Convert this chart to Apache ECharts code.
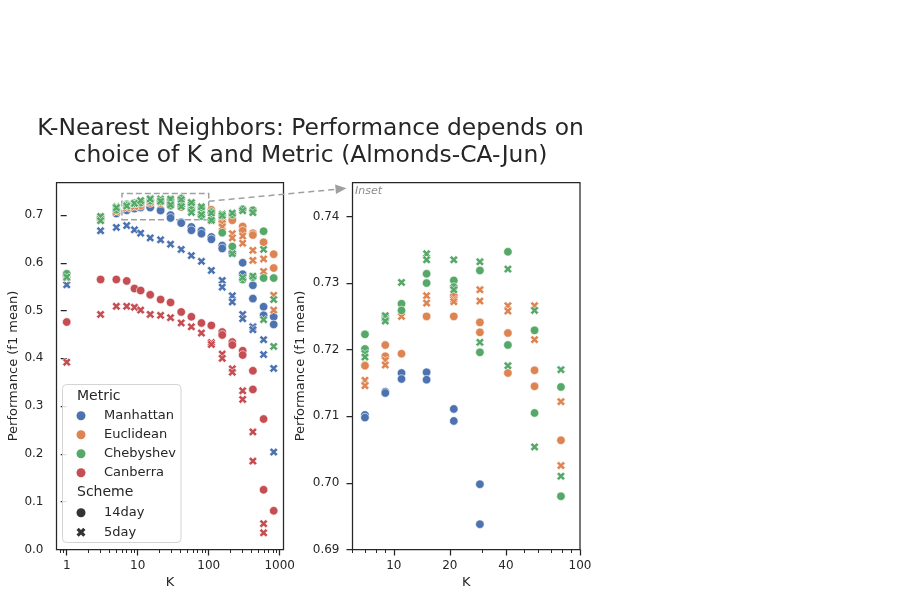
<!DOCTYPE html>
<html><head><meta charset="utf-8">
<script src="https://cdn.jsdelivr.net/npm/echarts@6/dist/echarts.min.js"></script>
<style>html,body{margin:0;padding:0;background:#fff}#c{width:903px;height:595px}</style>
</head><body><div id="c"></div>
<script>
// ---- data ----
const K = [1,3,5,7,9,11,15,21,29,41,57,79,109,155,215,301,419,593,823];

const manhattan14day = [[0.572],[0.691],[0.704,0.703],[0.7102,0.7098],[0.7137,0.7135],[0.7165,0.7156],[0.7166,0.7155],[0.7111,0.7093],[0.6998,0.6938],[0.685,0.683],[0.675,0.668],[0.667,0.661],[0.654,0.649],[0.636,0.630],[0.623,0.621],[0.600,0.576],[0.553,0.525],[0.508,0.490],[0.487,0.471]];
const manhattan5day = [[0.554],[0.667],[0.674],[0.678],[0.669],[0.662],[0.652],[0.648],[0.639],[0.628],[0.615],[0.603],[0.584],[0.563,0.549],[0.531,0.518],[0.492,0.483],[0.466,0.460],[0.439,0.408],[0.379,0.204]];
const euclidean14day = [[0.575],[0.694,0.692],[0.710,0.709],[0.7177,0.7176],[0.7207,0.7190],[0.7194],[0.7250],[0.7281,0.7250],[0.7241,0.7226],[0.7225,0.7165],[0.7169,0.7145],[0.7064],[0.711,0.690],[0.690,0.686],[0.692,0.689],[0.676,0.667],[0.662,0.658],[0.643],[0.618,0.589]];
const euclidean5day = [[0.568],[0.693],[0.707],[0.7154,0.7146],[0.7184,0.7177],[0.7250],[0.7281,0.7270],[0.7275,0.7272],[0.7290,0.7273],[0.7266,0.7258],[0.7266,0.7215],[0.7122,0.7026],[0.697,0.688],[0.682,0.675],[0.661,0.652],[0.656,0.641],[0.626,0.605],[0.608,0.582],[0.532,0.501]];
const chebyshev14day = [[0.577],[0.695],[0.712,0.711],[0.7223,0.7201],[0.7249,0.7246],[0.7269,0.7259],[0.7314,0.7300],[0.7304,0.7294],[0.7319,0.7196],[0.7347,0.7207],[0.7229,0.7105],[0.7144,0.6980],[0.706,0.690],[0.699,0.663],[0.701,0.634],[0.712,0.565],[0.710,0.570],[0.666,0.568],[0.568]];
const chebyshev5day = [[0.570],[0.697,0.688],[0.717,0.715],[0.7194,0.7189],[0.7251,0.7243],[0.7301],[0.7344,0.7335],[0.7335,0.7290],[0.7332,0.7211],[0.7321,0.7176],[0.7259,0.7054],[0.7170,0.7010],[0.704,0.689],[0.702,0.699],[0.704,0.619],[0.709,0.569],[0.705,0.572],[0.628,0.481],[0.523,0.425]];
const canberra14day = [[0.476],[0.565],[0.565],[0.562],[0.546],[0.542],[0.533],[0.523],[0.517],[0.497],[0.487],[0.474],[0.469],[0.455,0.449],[0.434,0.428],[0.416,0.407],[0.374,0.335],[0.273,0.125],[0.081]];
const canberra5day = [[0.392],[0.492],[0.509],[0.509],[0.507],[0.501],[0.492],[0.490],[0.485],[0.474],[0.466],[0.453],[0.433,0.429],[0.409,0.400],[0.378,0.371],[0.332,0.314],[0.246,0.185],[0.054,0.035],[]];

const metrics = ['Manhattan','Euclidean','Chebyshev','Canberra'];
const schemes = ['14day','5day'];

const leftXTicks = [1,10,100,1000];
const leftXMinor = [0.8,0.9,2,3,4,5,6,7,8,9,20,30,40,50,60,70,80,90,200,300,400,500,600,700,800,900];
const rightXTicks = [10,20,40,100];
const rightXMinor = [6,7,8,9,30,50,60,70,80,90];
const leftYTicks = [0,0.1,0.2,0.3,0.4,0.5,0.6,0.7];
const rightYTicks = [0.69,0.70,0.71,0.72,0.73,0.74];

// ---- styling ----
const COLORS = {Manhattan:'#4C72B0', Euclidean:'#DD8452', Chebyshev:'#55A868', Canberra:'#C44E52'};
const X_SYMBOL = 'path://M0,2.5L2.5,0L5,2.5L7.5,0L10,2.5L7.5,5L10,7.5L7.5,10L5,7.5L2.5,10L0,7.5L2.5,5Z';
const FONT = 'DejaVu Sans';
const INK = '#262626';

const leftX = [0.718, 1131], rightX = [6, 100];
const leftY = [0, 0.768], rightY = [0.69, 0.7451];

const groups = [
  ['Manhattan','14day',manhattan14day],['Manhattan','5day',manhattan5day],
  ['Euclidean','14day',euclidean14day],['Euclidean','5day',euclidean5day],
  ['Chebyshev','14day',chebyshev14day],['Chebyshev','5day',chebyshev5day],
  ['Canberra','14day',canberra14day],['Canberra','5day',canberra5day]
];

function toPoints(arr){
  const pts = [];
  arr.forEach((vals,i)=>vals.forEach(v=>pts.push([K[i], v])));
  return pts;
}

const series = [];
groups.forEach(([m,s,arr])=>{
  [[0,0],[3,1]].forEach(([xi,yi])=>{
    series.push({
      type:'scatter', name: m+' '+s, xAxisIndex:xi, yAxisIndex:yi,
      data: toPoints(arr), symbol: s==='14day'?'circle':X_SYMBOL,
      symbolSize: 8.5, clip:true, silent:true,
      itemStyle:{color:COLORS[m], borderColor:'#ffffff', borderWidth:0.6, opacity:1},
      z: 3
    });
  });
});
// inset box on the left axes
series[0].markArea = {
  silent:true,
  itemStyle:{color:'rgba(0,0,0,0)', borderColor:'#a0a0a0', borderWidth:1.5, borderType:'dashed'},
  data:[[{coord:[rightX[0], rightY[0]]},{coord:[rightX[1], rightY[1]]}]]
};
// legend-only series
metrics.forEach(m=>series.push({type:'scatter', name:m, xAxisIndex:0, yAxisIndex:0, data:[], symbol:'circle', itemStyle:{color:COLORS[m], opacity:1}}));
series.push({type:'scatter', name:'14day', xAxisIndex:0, yAxisIndex:0, data:[], symbol:'circle', itemStyle:{color:'#333333', opacity:1}});
series.push({type:'scatter', name:'5day', xAxisIndex:0, yAxisIndex:0, data:[], symbol:X_SYMBOL, itemStyle:{color:'#333333', opacity:1}});

const lg = Math.log10;
function majorX(grid, ext, ticks){
  const v = ticks.map(lg);
  return {
    type:'value', gridIndex:grid, position:'bottom', min:lg(ext[0]), max:lg(ext[1]),
    axisLine:{show:false}, splitLine:{show:false},
    axisTick:{show:true, customValues:v, length:6, lineStyle:{color:INK, width:1.25}},
    axisLabel:{show:true, customValues:v, margin:10, fontSize:12, color:INK, fontFamily:FONT,
      formatter:(x)=>String(Math.round(Math.pow(10,x)))},
    name:'K', nameLocation:'middle', nameGap:27,
    nameTextStyle:{fontSize:13, color:INK, fontFamily:FONT}
  };
}
function minorX(grid, ext, ticks){
  return {
    type:'value', gridIndex:grid, position:'bottom', min:lg(ext[0]), max:lg(ext[1]),
    axisLine:{show:false}, splitLine:{show:false}, axisLabel:{show:false},
    axisTick:{show:true, customValues:ticks.map(lg), length:3.5, lineStyle:{color:INK, width:1}}
  };
}
function yAx(grid, ext, ticks, digits, gap){
  return {
    type:'value', gridIndex:grid, min:ext[0], max:ext[1],
    axisLine:{show:false}, splitLine:{show:false},
    axisTick:{show:true, customValues:ticks, length:6, lineStyle:{color:INK, width:1.25}},
    axisLabel:{show:true, customValues:ticks, margin:13, fontSize:12, color:INK, fontFamily:FONT,
      formatter:(v)=>v.toFixed(digits)},
    name:'Performance (f1 mean)', nameLocation:'middle', nameGap:gap,
    nameTextStyle:{fontSize:13, color:INK, fontFamily:FONT}
  };
}

const legendText = {fontSize:13, color:INK, fontFamily:FONT, lineHeight:14, padding:[0,0,0,13.5]};

const chart = echarts.init(document.getElementById('c'), null, {renderer:'canvas'});
const option = {
  animation:false,
  backgroundColor:'#ffffff',
  title:{
    text:'K-Nearest Neighbors: Performance depends on\nchoice of K and Metric (Almonds-CA-Jun)',
    left:305.5, top:110, textAlign:'center',
    textStyle:{fontSize:23.4, fontWeight:'normal', color:INK, fontFamily:FONT, lineHeight:27}
  },
  grid:[
    {left:56.5, top:182.5, width:227, height:367, show:true, borderColor:INK, borderWidth:1.25, backgroundColor:'rgba(0,0,0,0)'},
    {left:352.5, top:182.5, width:227.5, height:367, show:true, borderColor:INK, borderWidth:1.25, backgroundColor:'rgba(0,0,0,0)'}
  ],
  xAxis:[
    {type:'log', logBase:10, gridIndex:0, min:leftX[0], max:leftX[1], show:false},
    majorX(0, leftX, leftXTicks),
    minorX(0, leftX, leftXMinor),
    {type:'log', logBase:10, gridIndex:1, min:rightX[0], max:rightX[1], show:false},
    majorX(1, rightX, rightXTicks),
    minorX(1, rightX, rightXMinor)
  ],
  yAxis:[
    yAx(0, leftY, leftYTicks, 1, 34),
    yAx(1, rightY, rightYTicks, 2, 45)
  ],
  legend:[
    {data:metrics.map(n=>({name:n, icon:'circle'})), orient:'vertical', left:76.5, top:408.7, padding:0,
      itemWidth:9, itemHeight:9, itemGap:5, selectedMode:false, z:20, textStyle:legendText},
    {data:[{name:'14day', icon:'circle'},{name:'5day', icon:X_SYMBOL}], orient:'vertical', left:76.5, top:505.7, padding:0,
      itemWidth:9, itemHeight:9, itemGap:5.6, selectedMode:false, z:20, textStyle:legendText}
  ],
  graphic:[
    {id:'lgbox', type:'rect', z:10, shape:{x:62.5, y:384.5, width:118.5, height:158, r:4},
      style:{fill:'rgba(255,255,255,0.85)', stroke:'#d4d4d4', lineWidth:1}},
    {id:'hdr1', type:'text', z:21, x:77, y:396, style:{text:'Metric', font:'14px "DejaVu Sans"', fill:INK, verticalAlign:'middle'}},
    {id:'hdr2', type:'text', z:21, x:77, y:492.3, style:{text:'Scheme', font:'14px "DejaVu Sans"', fill:INK, verticalAlign:'middle'}},
    {id:'inset', type:'text', z:21, x:355, y:191, style:{text:'Inset', font:'italic 11px "DejaVu Sans"', fill:'#8c8c8c', verticalAlign:'middle'}}
  ],
  series: series
};
chart.setOption(option);

// connector arrow from the inset box to the inset axes
const p0 = chart.convertToPixel({xAxisIndex:0, yAxisIndex:0}, [rightX[1], 0.7287]);
const c1 = chart.convertToPixel({xAxisIndex:3, yAxisIndex:1}, [rightX[0], rightY[1]]);
const p1 = [c1[0]-6, c1[1]+5.8];
const dx = p1[0]-p0[0], dy = p1[1]-p0[1], L = Math.hypot(dx,dy), ux = dx/L, uy = dy/L;
const hl = 11, hw = 4.8;
const base = [p1[0]-ux*hl, p1[1]-uy*hl];
chart.setOption({graphic:[
  {id:'arrowLine', type:'line', z:9, shape:{x1:p0[0], y1:p0[1], x2:base[0], y2:base[1]},
    style:{stroke:'#a0a0a0', lineWidth:1.5, lineDash:[6,4]}},
  {id:'arrowHead', type:'polygon', z:9, shape:{points:[p1,[base[0]-uy*hw, base[1]+ux*hw],[base[0]+uy*hw, base[1]-ux*hw]]},
    style:{fill:'#a0a0a0'}}
]});
</script>
</body></html>
